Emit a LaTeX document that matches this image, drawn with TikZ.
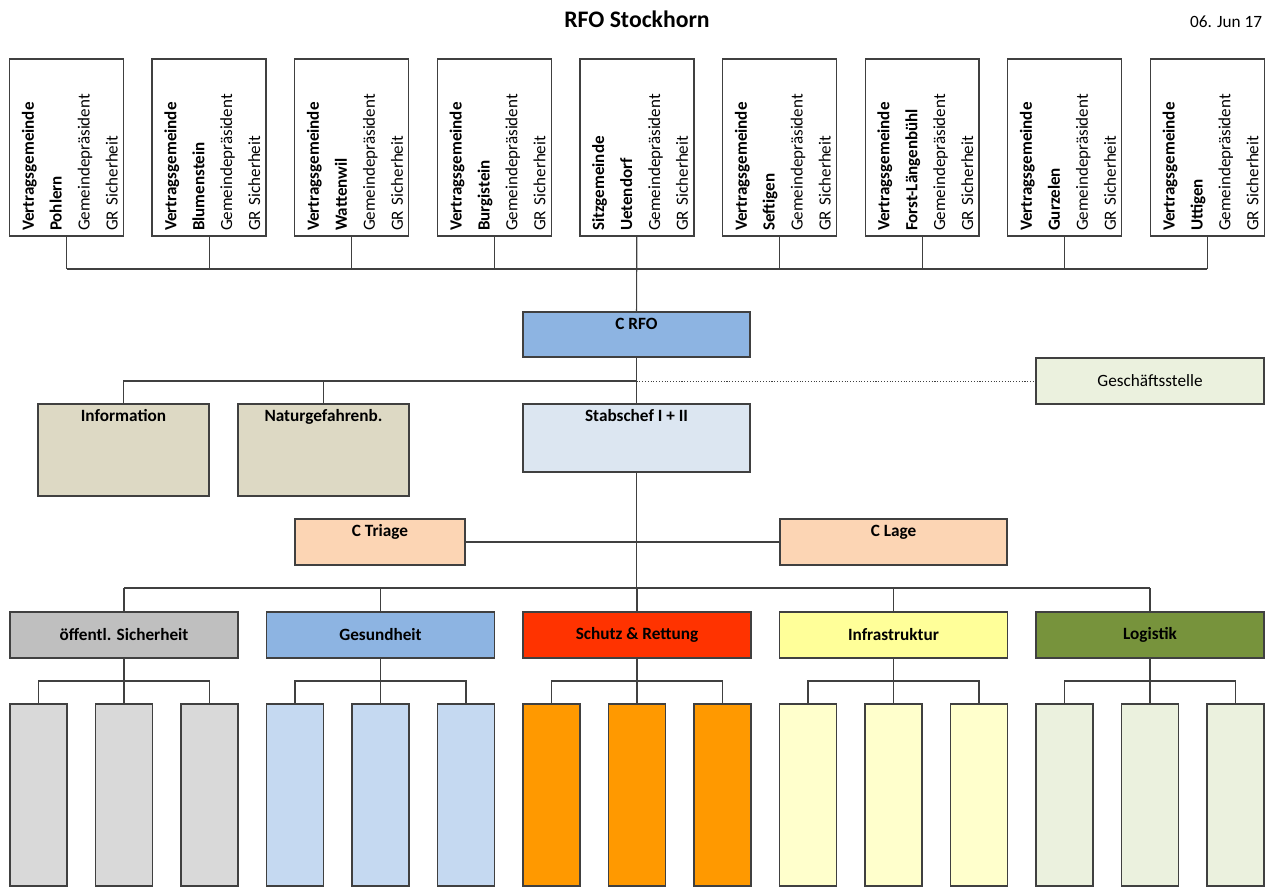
\documentclass[tikz,border=0pt]{standalone}
\usepackage{fontspec}
\setmainfont{Carlito}
\definecolor{lineC}{HTML}{404040}
\definecolor{cRFO}{HTML}{8DB4E2}
\definecolor{gsC}{HTML}{EBF1DE}
\definecolor{infoC}{HTML}{DDD9C4}
\definecolor{stabC}{HTML}{DCE6F1}
\definecolor{cTriage}{HTML}{FCD5B4}
\definecolor{secGrey}{HTML}{BFBFBF}
\definecolor{secBlue}{HTML}{8DB4E2}
\definecolor{secRed}{HTML}{FF3300}
\definecolor{secYellow}{HTML}{FFFF99}
\definecolor{secGreen}{HTML}{77933C}
\definecolor{subGrey}{HTML}{D9D9D9}
\definecolor{subBlue}{HTML}{C5D9F1}
\definecolor{subOrange}{HTML}{FF9900}
\definecolor{subYellow}{HTML}{FFFFCC}
\definecolor{subGreen}{HTML}{EBF1DE}
\begin{document}
\begin{tikzpicture}[x=0.02cm,y=-0.02cm,inner sep=0pt,outer sep=0pt,
box/.style={draw=lineC,line width=0.7pt,rectangle},
gemeinde/.style={box,fill=white,rotate=90,minimum width=3.54cm,minimum height=2.28cm,
  text width=3.34cm,align=left,inner xsep=0.1cm,font=\fontsize{9.7}{15.9}\selectfont},
headbox/.style={box,minimum width=4.54cm,minimum height=0.9cm},
smallbox/.style={box,minimum width=3.42cm,minimum height=1.84cm,fill=infoC},
toptext/.style={anchor=base,yshift=-0.35cm,font=\bfseries\fontsize{9.8}{11}\selectfont},
secbox/.style={box,minimum width=4.56cm,minimum height=0.92cm,font=\bfseries\fontsize{9.8}{11}\selectfont},
subbox/.style={box,minimum width=1.14cm,minimum height=3.64cm},
conn/.style={draw=lineC,line width=0.6pt}]
\useasboundingbox (0,0) rectangle (1270,889);
\node[anchor=base,font=\bfseries\fontsize{13.5}{16}\selectfont] (title) at (637,28) {RFO Stockhorn};
\node[anchor=base east,font=\fontsize{9.8}{11}\selectfont] (date) at (1262,28) {06. Jun 17};
% Gemeinden
\coordinate (bus) at (637,269);
\foreach \kind/\name [count=\i] in {Vertragsgemeinde/Pohlern,Vertragsgemeinde/Blumenstein,
  Vertragsgemeinde/Wattenwil,Vertragsgemeinde/Burgistein,Sitzgemeinde/Uetendorf,
  Vertragsgemeinde/Seftigen,Vertragsgemeinde/Forst-Längenbühl,Vertragsgemeinde/Gurzelen,
  Vertragsgemeinde/Uttigen}{
  \node[gemeinde] (t\i) at ({66.5+142.6*(\i-1)},147.5)
    {\rule{0pt}{10.5pt}\textbf{\kind}\\\textbf{\name}\\Gemeindepräsident\\GR Sicherheit};
  \draw[conn] (t\i.west) -- (t\i.west |- bus);
}
\draw[conn] (t1.west |- bus) -- (t9.west |- bus);
% Fuehrung
\node[headbox,fill=cRFO,label={[toptext]north:C RFO}] (crfo) at (636.5,334.5) {};
\node[box,fill=gsC,minimum width=4.56cm,minimum height=0.92cm,font=\fontsize{9.8}{11}\selectfont] (gs) at (1150,381) {Geschäftsstelle};
\node[smallbox,label={[toptext]north:Information}] (info) at (123.5,450) {};
\node[smallbox,label={[toptext]north:Naturgefahrenb.}] (natur) at (323.5,450) {};
\node[headbox,fill=stabC,minimum height=1.36cm,label={[toptext]north:Stabschef I + II}] (stab) at (636.5,438) {};
\node[box,fill=cTriage,minimum width=3.4cm,minimum height=0.92cm,label={[toptext]north:C Triage}] (triage) at (380,542) {};
\node[box,fill=cTriage,minimum width=4.54cm,minimum height=0.92cm,label={[toptext]north:C Lage}] (lage) at (893.5,542) {};
\coordinate (staff) at (636.5,381);
\draw[conn] (t5.west) -- (crfo.north);
\draw[conn] (crfo.south) -- (stab.north);
\draw[conn] (info.north) |- (staff);
\draw[conn] (natur.north) -- (natur.north |- staff);
\draw[conn,densely dotted,line width=0.5pt] (staff) -- (gs.west);
\draw[conn] (triage.east) -- (lage.west);
% Bereiche
\coordinate (sbus) at (636.5,588);
\coordinate (subbus) at (0,681);
\draw[conn] (stab.south) -- (sbus);
\foreach \lab/\col/\subcol [count=\i] in {öffentl. Sicherheit/secGrey/subGrey,
  Gesundheit/secBlue/subBlue,Schutz \& Rettung/secRed/subOrange,
  Infrastruktur/secYellow/subYellow,Logistik/secGreen/subGreen}{
  \node[secbox,fill=\col] (s\i) at ({124+256.5*(\i-1)},635) {\lab};
  \draw[conn] (s\i.north) -- (s\i.north |- sbus);
  \foreach \j in {1,2,3}
    \node[subbox,fill=\subcol] (s\i-\j) at ({124+256.5*(\i-1)+85.5*(\j-2)},795) {};
  \draw[conn] (s\i.south) -- (s\i-2.north);
  \draw[conn] (s\i-1.north) |- (s\i-3.north |- subbus) -- (s\i-3.north);
}
\draw[conn] (s1.north |- sbus) -- (s5.north |- sbus);
\end{tikzpicture}
\end{document}
